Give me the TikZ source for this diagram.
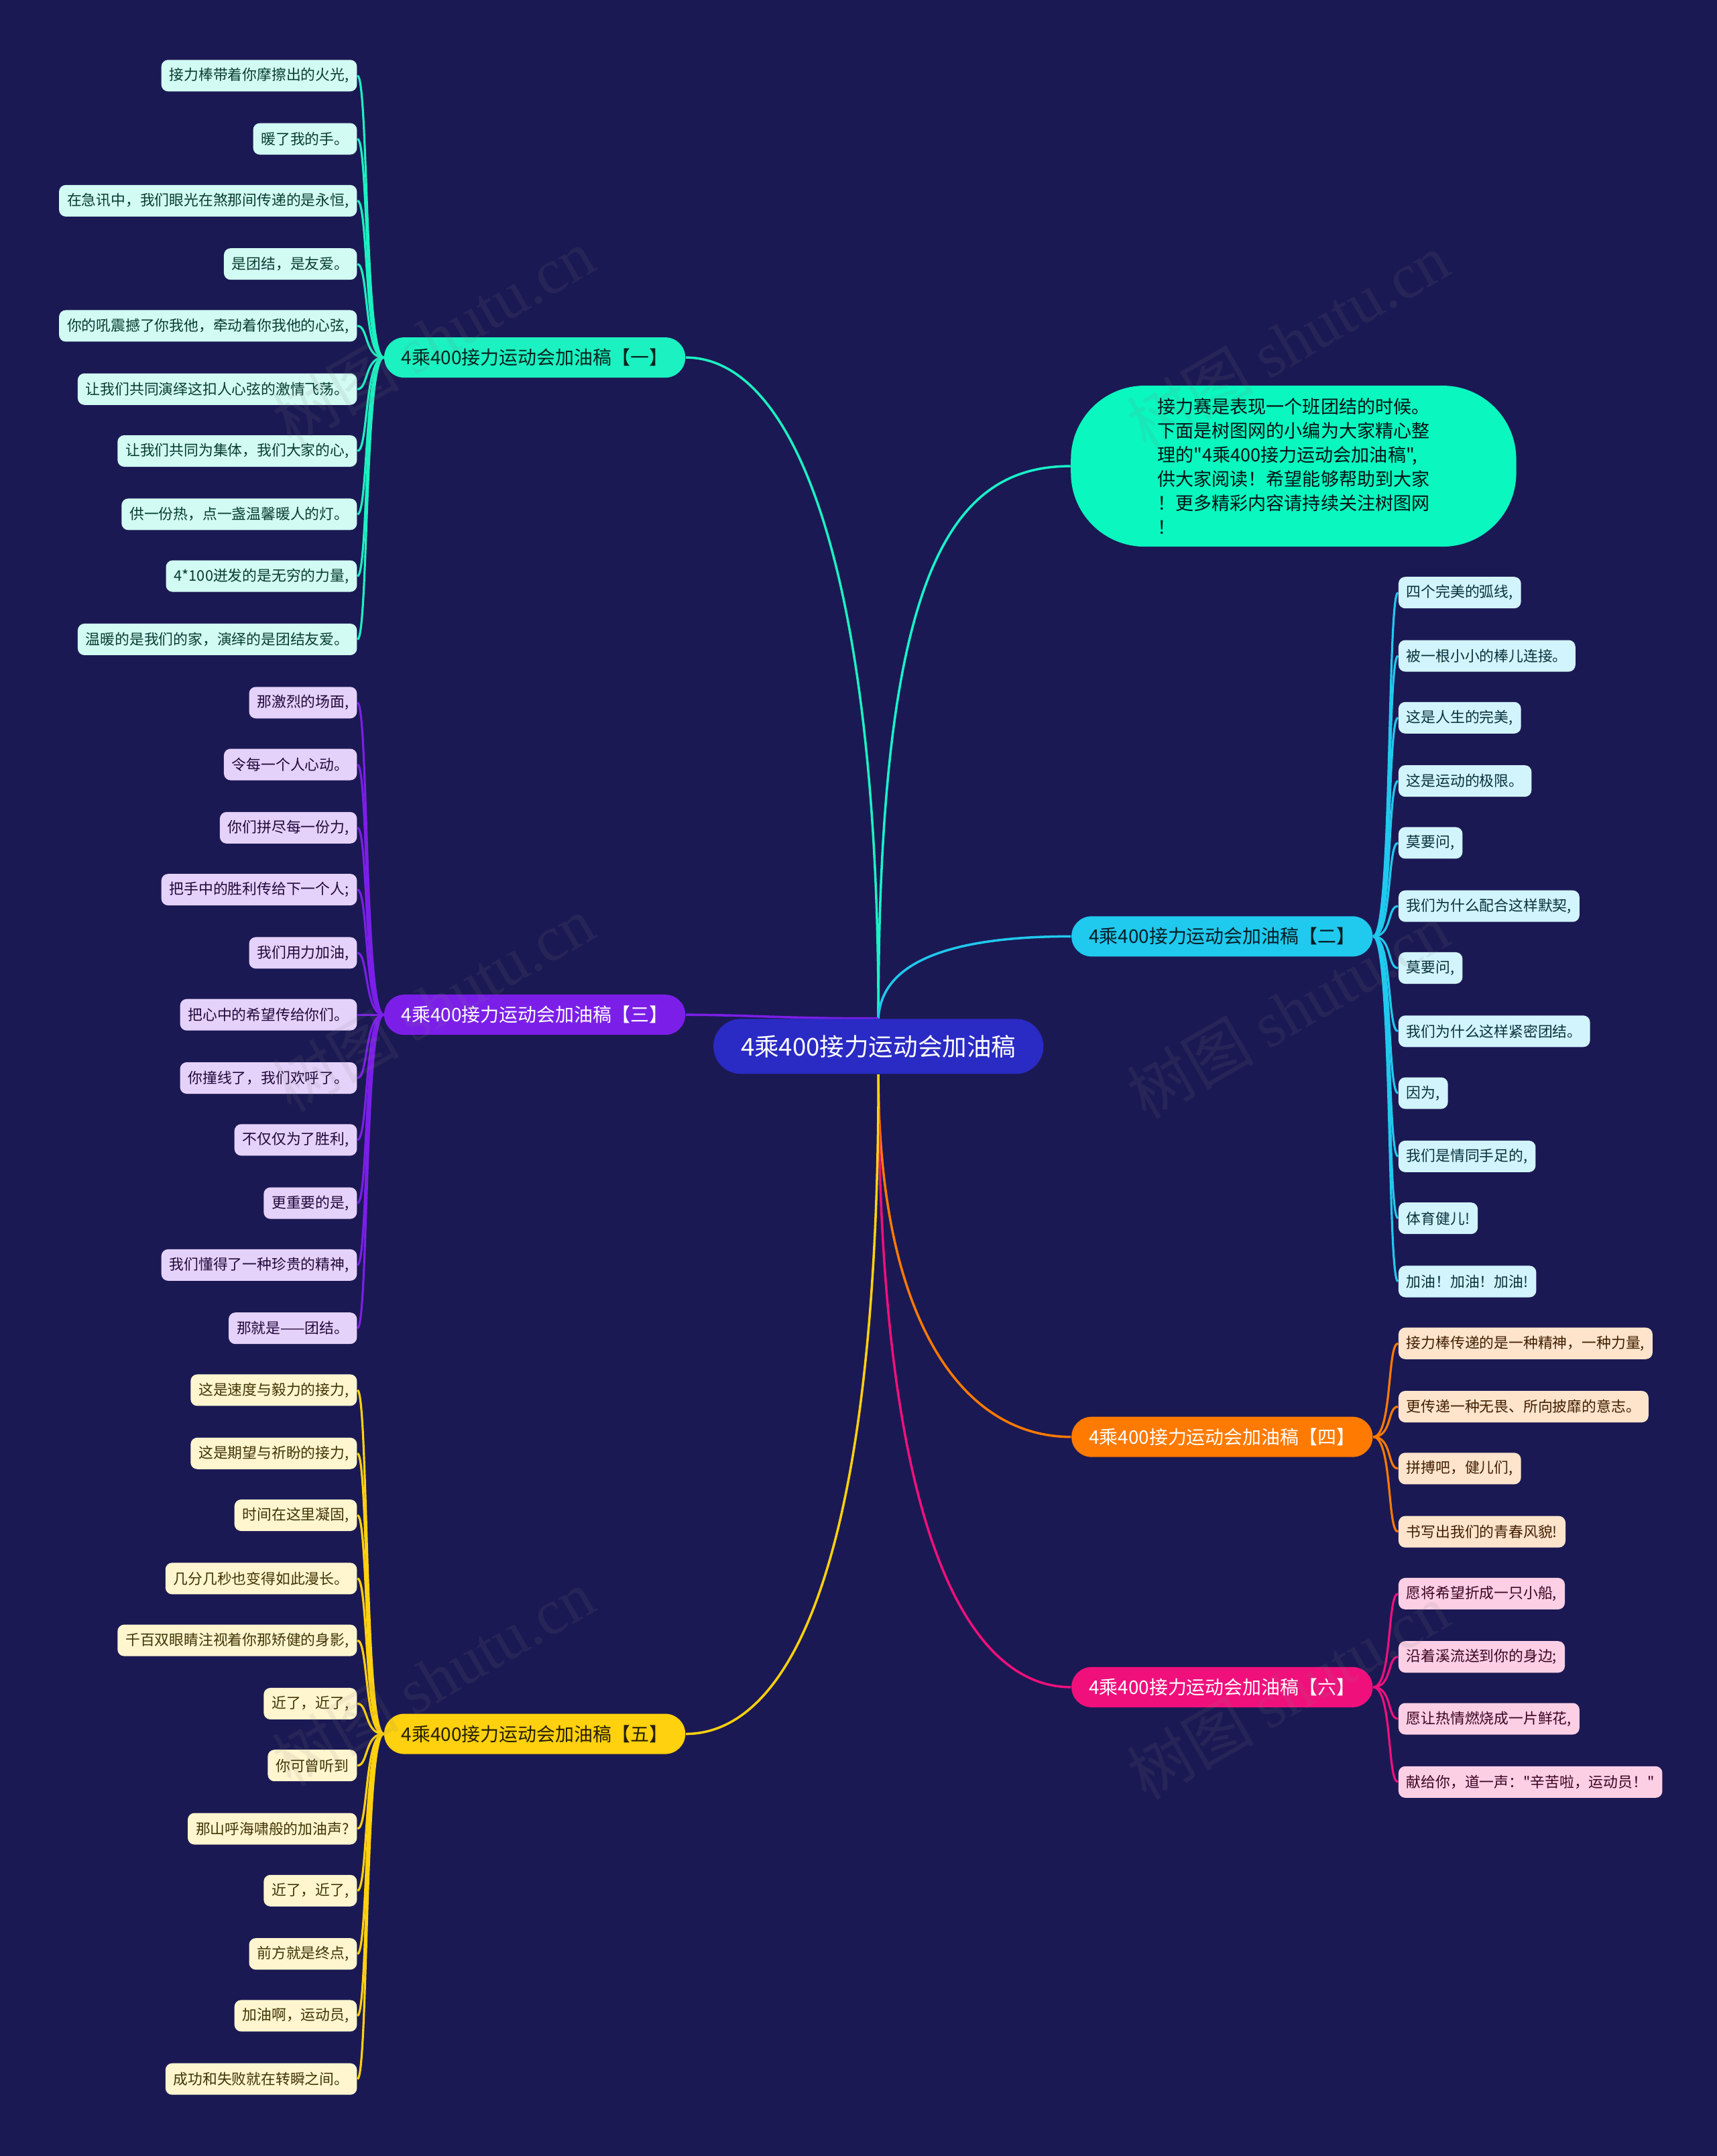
\documentclass[tikz,border=0pt]{standalone}
\usepackage{fontspec}
\setmainfont{Noto Sans CJK SC}[Ligatures=TeXOff]
\newfontfamily\wmserif{Liberation Serif}
\usetikzlibrary{positioning}
\definecolor{bgnavy}{RGB}{27,25,83}
\definecolor{rootblue}{RGB}{42,42,196}
\definecolor{introaqua}{RGB}{10,247,192}
\definecolor{brA}{RGB}{28,241,193}
\definecolor{brB}{RGB}{32,201,238}
\definecolor{brC}{RGB}{123,31,232}
\definecolor{brD}{RGB}{255,122,0}
\definecolor{brE}{RGB}{255,209,14}
\definecolor{brF}{RGB}{240,16,124}
\pgfdeclarelayer{back}
\pgfdeclarelayer{links}
\pgfdeclarelayer{front}
\pgfsetlayers{back,links,main,front}
\tikzset{
  rootnode/.style={fill=rootblue,text=white,rounded corners=0.41cm,minimum width=4.92cm,
    minimum height=0.82cm,inner sep=0pt,font=\fontsize{10.4}{12}\selectfont},
  branchnode/.style={rounded corners=0.3cm,minimum width=4.49cm,minimum height=0.6cm,
    inner sep=0pt,font=\fontsize{7.95}{9}\selectfont},
  introbox/.style={fill=introaqua,text=black!85!teal,rounded corners=1.1cm,minimum width=6.64cm,
    minimum height=2.4cm,align=left,font=\fontsize{7.7}{10.2}\selectfont},
  leafnode/.style={rounded corners=0.1cm,minimum height=0.47cm,inner xsep=0.12cm,
    inner ysep=0pt,font=\fontsize{6.2}{7}\selectfont},
  link/.style={line width=1pt},
  twig/.style={line width=0.9pt},
  wmark/.style={text=gray,opacity=0.12,rotate=30,font=\fontsize{27}{30}\selectfont},
}
% leaves on the left and on the right of the map
\newcommand{\lleaf}[4]{\node[leafnode,fill=#3!20,text=#3!25!black,anchor=east] (#1) at (260,#2) {#4};}
\newcommand{\rleaf}[4]{\node[leafnode,fill=#3!20,text=#3!25!black,anchor=west] (#1) at (1017,#2) {#4};}
\newcommand{\ltwig}[3]{\draw[twig,#3] (#1.west) .. controls +(-14,0) and +(8,0) .. (#2.east);}
\newcommand{\rtwig}[3]{\draw[twig,#3] (#1.east) .. controls +(14,0) and +(-8,0) .. (#2.west);}
\newcommand{\wm}[3]{\node[wmark] (#1) at (#2,#3) {树图 {\wmserif shutu.cn}};}

\begin{document}
\begin{tikzpicture}[x=0.0205cm,y=-0.0205cm]
  \begin{pgfonlayer}{back}
    \fill[bgnavy] (0,0) rectangle (1249,1568);
  \end{pgfonlayer}
  \useasboundingbox (0,0) rectangle (1249,1568);

  \node[rootnode] (root) at (639,761) {4乘400接力运动会加油稿};
  \node[introbox] (intro) at (941,339) {接力赛是表现一个班团结的时候。\\下面是树图网的小编为大家精心整\\理的"4乘400接力运动会加油稿",\\供大家阅读！希望能够帮助到大家\\！更多精彩内容请持续关注树图网\\！};
  \node[branchnode,fill=brA,text=brA!15!black] (bA) at (389,260) {4乘400接力运动会加油稿【一】};
  \node[branchnode,fill=brB,text=brB!15!black] (bB) at (889,681) {4乘400接力运动会加油稿【二】};
  \node[branchnode,fill=brC,text=white] (bC) at (389,738) {4乘400接力运动会加油稿【三】};
  \node[branchnode,fill=brD,text=white] (bD) at (889,1045) {4乘400接力运动会加油稿【四】};
  \node[branchnode,fill=brE,text=brE!15!black] (bE) at (389,1261) {4乘400接力运动会加油稿【五】};
  \node[branchnode,fill=brF,text=white] (bF) at (889,1227) {4乘400接力运动会加油稿【六】};

  % branch one
  \lleaf{a1}{55}{brA}{接力棒带着你摩擦出的火光,}
  \lleaf{a2}{101}{brA}{暖了我的手。}
  \lleaf{a3}{146}{brA}{在急讯中，我们眼光在煞那间传递的是永恒,}
  \lleaf{a4}{192}{brA}{是团结，是友爱。}
  \lleaf{a5}{237}{brA}{你的吼震撼了你我他，牵动着你我他的心弦,}
  \lleaf{a6}{283}{brA}{让我们共同演绎这扣人心弦的激情飞荡。}
  \lleaf{a7}{328}{brA}{让我们共同为集体，我们大家的心,}
  \lleaf{a8}{374}{brA}{供一份热，点一盏温馨暖人的灯。}
  \lleaf{a9}{419}{brA}{4*100迸发的是无穷的力量,}
  \lleaf{a10}{465}{brA}{温暖的是我们的家，演绎的是团结友爱。}
  % branch two
  \rleaf{b1}{431}{brB}{四个完美的弧线,}
  \rleaf{b2}{477}{brB}{被一根小小的棒儿连接。}
  \rleaf{b3}{522}{brB}{这是人生的完美,}
  \rleaf{b4}{568}{brB}{这是运动的极限。}
  \rleaf{b5}{613}{brB}{莫要问,}
  \rleaf{b6}{659}{brB}{我们为什么配合这样默契,}
  \rleaf{b7}{704}{brB}{莫要问,}
  \rleaf{b8}{750}{brB}{我们为什么这样紧密团结。}
  \rleaf{b9}{795}{brB}{因为,}
  \rleaf{b10}{841}{brB}{我们是情同手足的,}
  \rleaf{b11}{886}{brB}{体育健儿!}
  \rleaf{b12}{932}{brB}{加油！加油！加油!}
  % branch three
  \lleaf{c1}{511}{brC}{那激烈的场面,}
  \lleaf{c2}{556}{brC}{令每一个人心动。}
  \lleaf{c3}{602}{brC}{你们拼尽每一份力,}
  \lleaf{c4}{647}{brC}{把手中的胜利传给下一个人;}
  \lleaf{c5}{693}{brC}{我们用力加油,}
  \lleaf{c6}{738}{brC}{把心中的希望传给你们。}
  \lleaf{c7}{784}{brC}{你撞线了，我们欢呼了。}
  \lleaf{c8}{829}{brC}{不仅仅为了胜利,}
  \lleaf{c9}{875}{brC}{更重要的是,}
  \lleaf{c10}{920}{brC}{我们懂得了一种珍贵的精神,}
  \lleaf{c11}{966}{brC}{那就是——团结。}
  % branch four
  \rleaf{d1}{977}{brD}{接力棒传递的是一种精神，一种力量,}
  \rleaf{d2}{1023}{brD}{更传递一种无畏、所向披靡的意志。}
  \rleaf{d3}{1068}{brD}{拼搏吧，健儿们,}
  \rleaf{d4}{1114}{brD}{书写出我们的青春风貌!}
  % branch five
  \lleaf{e1}{1011}{brE}{这是速度与毅力的接力,}
  \lleaf{e2}{1057}{brE}{这是期望与祈盼的接力,}
  \lleaf{e3}{1102}{brE}{时间在这里凝固,}
  \lleaf{e4}{1148}{brE}{几分几秒也变得如此漫长。}
  \lleaf{e5}{1193}{brE}{千百双眼睛注视着你那矫健的身影,}
  \lleaf{e6}{1239}{brE}{近了，近了,}
  \lleaf{e7}{1284}{brE}{你可曾听到}
  \lleaf{e8}{1330}{brE}{那山呼海啸般的加油声?}
  \lleaf{e9}{1375}{brE}{近了，近了,}
  \lleaf{e10}{1421}{brE}{前方就是终点,}
  \lleaf{e11}{1466}{brE}{加油啊，运动员,}
  \lleaf{e12}{1512}{brE}{成功和失败就在转瞬之间。}
  % branch six
  \rleaf{f1}{1159}{brF}{愿将希望折成一只小船,}
  \rleaf{f2}{1205}{brF}{沿着溪流送到你的身边;}
  \rleaf{f3}{1250}{brF}{愿让热情燃烧成一片鲜花,}
  \rleaf{f4}{1296}{brF}{献给你，道一声："辛苦啦，运动员！"}

  \begin{pgfonlayer}{links}
    \draw[link,brA] (root.north) .. controls (639,420) and (580,260) .. (bA.east);
    \draw[link,brA!85!cyan] (root.north) .. controls (639,420) and (690,339) .. (intro.west);
    \draw[link,brB] (root.north) .. controls (641,700) and (690,681) .. (bB.west);
    \draw[link,brC] (root.north) .. controls (580,741) and (540,738) .. (bC.east);
    \draw[link,brD] (root.south) .. controls (639,960) and (700,1045) .. (bD.west);
    \draw[link,brF] (root.south) .. controls (639,1130) and (710,1227) .. (bF.west);
    \draw[link,brE] (root.south) .. controls (639,1150) and (570,1261) .. (bE.east);
    \foreach \i in {1,...,10} {\ltwig{bA}{a\i}{brA}}
    \foreach \i in {1,...,12} {\rtwig{bB}{b\i}{brB}}
    \foreach \i in {1,...,11} {\ltwig{bC}{c\i}{brC}}
    \foreach \i in {1,...,4} {\rtwig{bD}{d\i}{brD}}
    \foreach \i in {1,...,12} {\ltwig{bE}{e\i}{brE}}
    \foreach \i in {1,...,4} {\rtwig{bF}{f\i}{brF}}
  \end{pgfonlayer}

  \begin{pgfonlayer}{front}
    \wm{wm1}{315}{245}\wm{wm2}{937}{248}
    \wm{wm3}{315}{730}\wm{wm4}{937}{735}
    \wm{wm5}{315}{1220}\wm{wm6}{937}{1230}
  \end{pgfonlayer}
\end{tikzpicture}
\end{document}
